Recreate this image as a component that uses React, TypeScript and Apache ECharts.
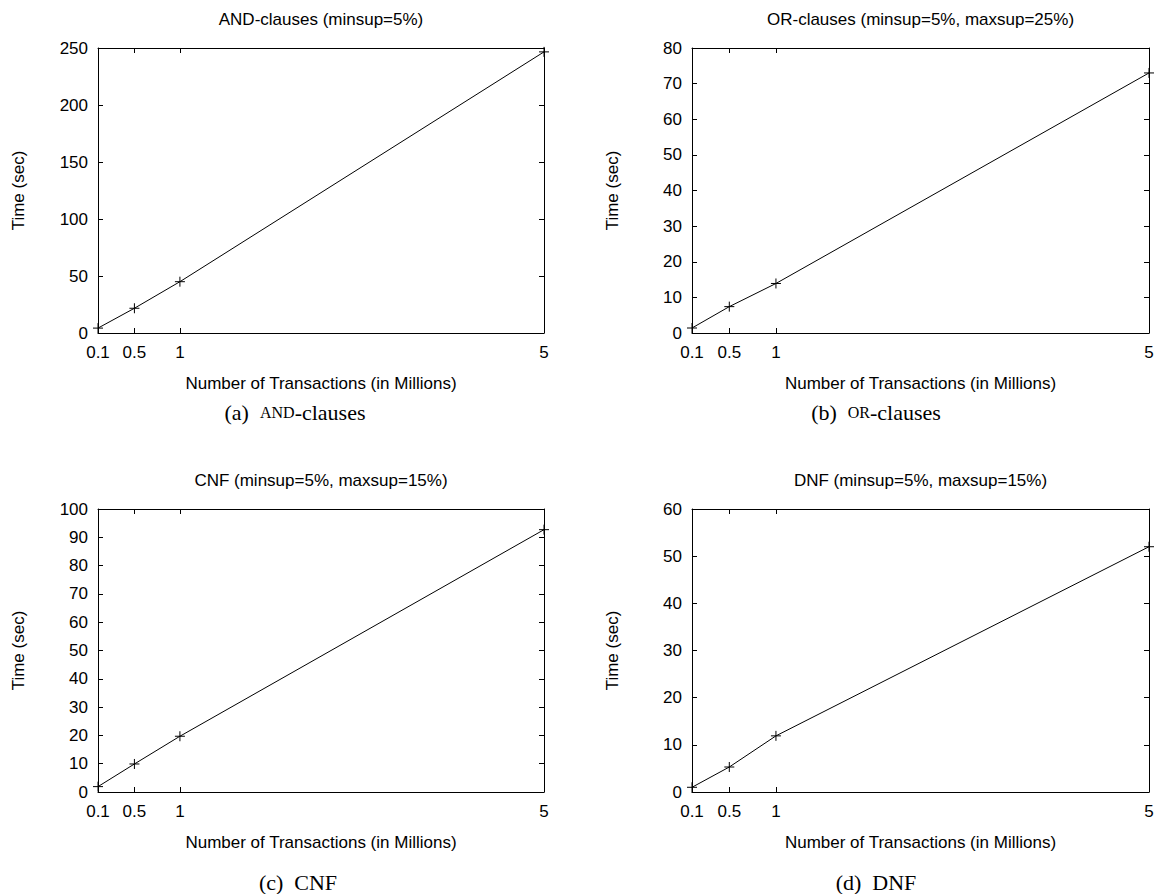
import React, { useEffect, useRef } from "react";
import * as echarts from "echarts";

// ---- data ----
const xTicks = [0.1, 0.5, 1, 5];
const andTimes = [4.3, 21.7, 45, 246.6];
const orTimes = [1.4, 7.4, 13.9, 73];
const cnfTimes = [1.9, 9.9, 19.7, 92.7];
const dnfTimes = [1.0, 5.3, 11.9, 52.0];

const panelTitles = [
  "AND-clauses (minsup=5%)",
  "OR-clauses (minsup=5%, maxsup=25%)",
  "CNF (minsup=5%, maxsup=15%)",
  "DNF (minsup=5%, maxsup=15%)",
];
const captions = [
  "{n|(a)  }{sc|AND}{n|-clauses}",
  "{n|(b)  }{sc|OR}{n|-clauses}",
  "{n|(c)  CNF}",
  "{n|(d)  DNF}",
];
const yMaxes = [250, 80, 100, 60];
const yIntervals = [50, 10, 10, 10];
const seriesValues = [andTimes, orTimes, cnfTimes, dnfTimes];

const xAxisName = "Number of Transactions (in Millions)";
const yAxisName = "Time (sec)";

// layout (pixels)
const grids = [
  { left: 98, width: 446, top: 48, height: 285 },
  { left: 692, width: 457, top: 48, height: 285 },
  { left: 98, width: 446, top: 509, height: 283 },
  { left: 692, width: 457, top: 509, height: 283 },
];
const titleY = [19, 19, 480, 480];
const captionX = [295, 876, 298, 876];
const captionY = [412, 412, 882, 882];

const SANS = '"Liberation Sans", Arial, sans-serif';
const SERIF = '"Liberation Serif", "DejaVu Serif", serif';
const FS = 17;

export default function App() {
  const ref = useRef<HTMLDivElement>(null);
  useEffect(() => {
    if (!ref.current) return;
    const chart = echarts.init(ref.current, undefined, { renderer: "svg" });

    const xAxes: any[] = [];
    const yAxes: any[] = [];
    const series: any[] = [];
    const graphics: any[] = [];

    grids.forEach((g, i) => {
      const tickCommon = {
        show: true,
        inside: true,
        length: 5,
        lineStyle: { color: "#000", width: 1 },
      };
      xAxes.push({
        type: "value",
        gridIndex: i,
        position: "bottom",
        min: 0.1,
        max: 5,
        name: xAxisName,
        nameLocation: "middle",
        nameGap: 42,
        nameTextStyle: { fontFamily: SANS, fontSize: FS, color: "#000" },
        axisLine: { show: true, onZero: false, lineStyle: { color: "#000", width: 1 } },
        axisTick: { ...tickCommon, customValues: xTicks },
        axisLabel: {
          customValues: xTicks,
          fontFamily: SANS,
          fontSize: FS,
          color: "#000",
          margin: 11,
          showMinLabel: true,
          showMaxLabel: true,
        },
        splitLine: { show: false },
      });
      xAxes.push({
        type: "value",
        gridIndex: i,
        position: "top",
        min: 0.1,
        max: 5,
        axisLine: { show: true, onZero: false, lineStyle: { color: "#000", width: 1 } },
        axisTick: { ...tickCommon, customValues: xTicks },
        axisLabel: { show: false, customValues: xTicks },
        splitLine: { show: false },
      });
      yAxes.push({
        type: "value",
        gridIndex: i,
        position: "left",
        min: 0,
        max: yMaxes[i],
        interval: yIntervals[i],
        name: yAxisName,
        nameLocation: "middle",
        nameGap: 71,
        nameTextStyle: { fontFamily: SANS, fontSize: FS, color: "#000" },
        axisLine: { show: true, onZero: false, lineStyle: { color: "#000", width: 1 } },
        axisTick: tickCommon,
        axisLabel: { fontFamily: SANS, fontSize: FS, color: "#000", margin: 10 },
        splitLine: { show: false },
      });
      yAxes.push({
        type: "value",
        gridIndex: i,
        position: "right",
        min: 0,
        max: yMaxes[i],
        interval: yIntervals[i],
        axisLine: { show: true, onZero: false, lineStyle: { color: "#000", width: 1 } },
        axisTick: tickCommon,
        axisLabel: { show: false },
        splitLine: { show: false },
      });

      series.push({
        type: "line",
        xAxisIndex: i * 2,
        yAxisIndex: i * 2,
        data: xTicks.map((x, k) => [x, seriesValues[i][k]]),
        color: "#000",
        lineStyle: { color: "#000", width: 1 },
        symbol: "path://M0,5L10,5M5,0L5,10",
        symbolSize: 10,
        showSymbol: true,
        showAllSymbol: true,
        itemStyle: { color: "rgba(0,0,0,0)", borderColor: "#000", borderWidth: 1 },
        clip: false,
      });

      const cx = g.left + g.width / 2;
      graphics.push({
        type: "text",
        x: cx,
        y: titleY[i],
        style: {
          text: panelTitles[i],
          fontFamily: SANS,
          fontSize: FS,
          fill: "#000",
          align: "center",
          verticalAlign: "middle",
        },
      });
      graphics.push({
        type: "text",
        x: captionX[i],
        y: captionY[i],
        style: {
          text: captions[i],
          align: "center",
          verticalAlign: "middle",
          rich: {
            n: { fontFamily: SERIF, fontSize: 22, fill: "#000", color: "#000" },
            sc: { fontFamily: SERIF, fontSize: 16, fill: "#000", color: "#000" },
          },
        },
      });
    });

    chart.setOption({
      animation: false,
      backgroundColor: "#fff",
      grid: grids.map((g) => ({ ...g, containLabel: false })),
      xAxis: xAxes,
      yAxis: yAxes,
      series,
      graphic: graphics,
    });
    return () => chart.dispose();
  }, []);
  return (
    <div
      ref={ref}
      style={{ position: "absolute", left: 0, top: 0, width: 1157, height: 894 }}
    />
  );
}
